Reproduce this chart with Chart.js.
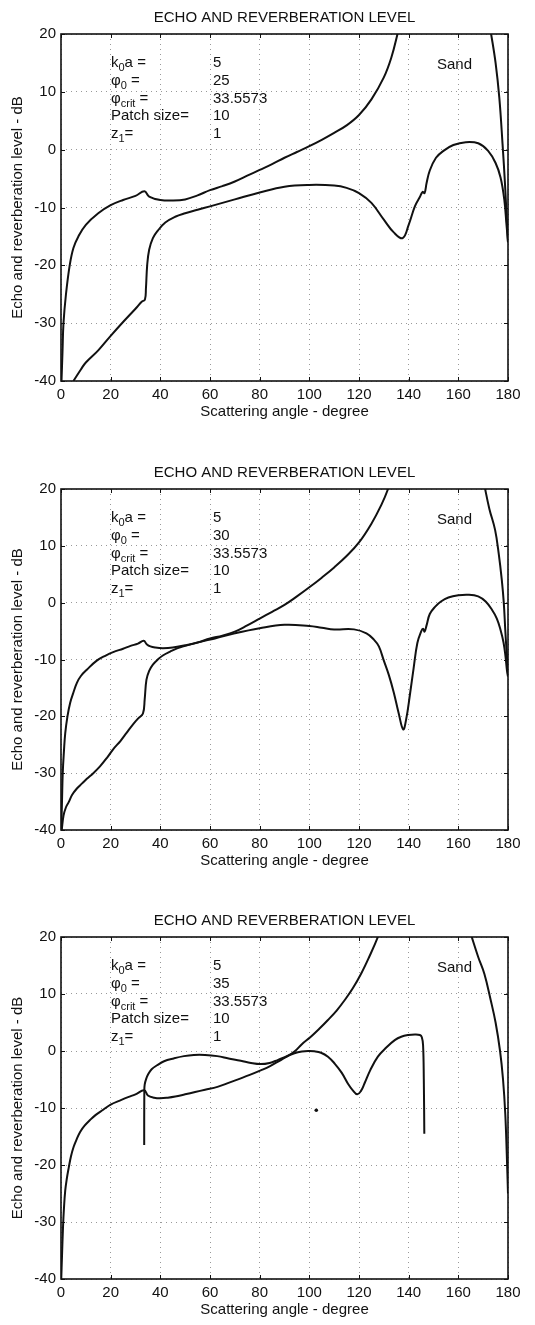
<!DOCTYPE html>
<html>
<head>
<meta charset="utf-8">
<title>Echo and reverberation level</title>
<script src="https://cdn.jsdelivr.net/npm/chart.js@4.4.1/dist/chart.umd.min.js"></script>
<style>
  body { margin: 0; background: #fff; }
  .panel { position: absolute; left: 0; width: 535px; }
</style>
</head>
<body>
<div class="panel" style="top:0px;height:425px"><canvas id="level25"></canvas></div>
<div class="panel" style="top:455px;height:419px"><canvas id="level30"></canvas></div>
<div class="panel" style="top:903px;height:420px"><canvas id="level35"></canvas></div>
<script>
// Scattering angle (degree) and level (dB); null = curve is off the top of the plot
const echo25Angle = [0.2, 0.6, 1, 2, 3.5, 5, 7, 10, 15, 20, 25, 30, 33.6, 35.5, 40, 45, 50, 55, 60, 65, 70, 75, 80, 85, 90, 95, 100, 105, 110, 115, 120, 125, 130, 133, 135.5, 137, 150, 172, 173.2, 175, 176.5, 177.8, 178.8, 179.5, 180];
const echo25Level = [-40, -35, -30, -25, -20, -17, -15, -13, -11, -9.6, -8.7, -8.0, -7.2, -8.1, -8.7, -8.8, -8.6, -7.9, -7.0, -6.3, -5.5, -4.5, -3.5, -2.5, -1.4, -0.4, 0.6, 1.7, 2.9, 4.2, 6.0, 8.7, 12.5, 15.9, 20, 23, null, 23, 20, 15, 9, 1, -6, -12, -16];
const reverb25Angle = [5, 8, 10, 15, 20, 25, 30, 32.5, 33.8, 34.2, 34.7, 35.5, 37, 39, 42, 46, 50, 55, 60, 70, 80, 90, 100, 110, 115, 120, 125, 130, 134, 137.6, 140, 142.5, 144.5, 145.6, 146.4, 147.2, 148.5, 151, 154, 158, 163, 168, 172, 175, 177, 178.5, 179.4, 180];
const reverb25Level = [-40, -38, -36.8, -34.7, -32.2, -29.8, -27.5, -26.3, -25.9, -24, -20, -17.3, -15.3, -14, -12.6, -11.6, -11, -10.4, -9.8, -8.6, -7.4, -6.4, -6.1, -6.2, -6.6, -7.5, -9.2, -12.1, -14.3, -15.3, -13, -9.8, -8.2, -7.3, -7.5, -5.8, -3.6, -1.4, -0.2, 0.8, 1.3, 1.1, -0.2, -2.3, -4.8, -8.6, -13, -16];

const echo30Angle = [0.1, 0.4, 0.7, 1.2, 1.7, 2.6, 3.7, 5, 6.4, 8, 10.4, 14.4, 18, 21, 25, 28, 31, 33.3, 34.5, 36, 38, 41, 45, 50, 55, 60, 65, 70, 75, 80, 85, 90, 95, 100, 105, 110, 115, 120, 125, 129, 131.7, 133, 150, 170, 170.8, 172.5, 174.8, 176.3, 177.5, 178.3, 178.9, 179.5, 180];
const echo30Level = [-40, -35, -30, -26, -23, -20, -17.6, -15.8, -14.1, -12.9, -11.8, -10.2, -9.3, -8.7, -8.1, -7.6, -7.2, -6.7, -7.3, -7.7, -7.9, -8.0, -7.9, -7.5, -7.0, -6.3, -5.8, -5.1, -4.0, -2.8, -1.6, -0.4, 1.1, 2.7, 4.4, 6.2, 8.2, 10.6, 13.9, 17.2, 20, 22, null, 22, 20, 16.5, 12.8, 8.5, 4, 0, -4.8, -9, -12];
const reverb30Angle = [0.3, 1, 2, 3.1, 4.5, 6.4, 8.5, 10.4, 13, 15.7, 18.5, 21, 24, 26.4, 29, 31, 33, 33.7, 34.4, 35.5, 37, 39, 41, 44, 47, 50, 56, 62, 70, 80, 90, 100, 105, 110, 118, 123, 126, 128, 130, 132, 134, 136, 137.8, 139, 140.5, 142, 143.5, 145, 145.8, 146.4, 147.2, 148.5, 150.7, 153, 156, 160, 164, 168, 171, 173.6, 175.5, 177, 178.2, 179, 179.6, 180];
const reverb30Level = [-40, -37.5, -36, -35.1, -33.8, -32.7, -31.8, -31, -30, -28.8, -27.3, -25.8, -24.3, -22.9, -21.4, -20.4, -19.5, -17, -13.6, -12, -10.9, -10, -9.3, -8.6, -8, -7.6, -6.9, -6.3, -5.4, -4.5, -3.9, -4.1, -4.4, -4.7, -4.7, -5.4, -6.5, -7.7, -10.2, -12.7, -15.8, -19.5, -22.3, -20.5, -16.2, -11.5, -7.1, -5.1, -4.6, -5.1, -4.0, -2.0, -0.7, 0.2, 0.9, 1.3, 1.4, 1.1, 0.2, -1.3, -2.8, -4.8, -7, -9.5, -12, -13];

const echo35Angle = [0.1, 0.4, 0.8, 1.2, 1.7, 2.3, 3.1, 4, 5.1, 6.3, 7.7, 9.5, 11.7, 14, 17, 20, 23.7, 27, 30, 33.5, 35, 37.5, 40, 43, 46, 50, 54, 58, 63, 68, 72.4, 76, 80.4, 84, 87.2, 90.5, 94, 97, 100.6, 104, 107.4, 111, 114.2, 117.5, 120.9, 124, 127.6, 129, 150, 164, 165.4, 168, 170.5, 173, 175, 176.8, 178, 178.9, 179.5, 180];
const echo35Level = [-40, -36, -31, -27.5, -24.5, -22.5, -20.5, -18.5, -16.8, -15.5, -14.2, -13.1, -12.1, -11.2, -10.3, -9.4, -8.7, -8.1, -7.6, -6.9, -7.8, -8.2, -8.3, -8.2, -8, -7.6, -7.2, -6.8, -6.3, -5.5, -4.8, -4.2, -3.4, -2.7, -1.9, -1.1, -0.1, 1.2, 2.5, 3.9, 5.4, 7.1, 8.9, 11.0, 13.6, 16.4, 20, 22, null, 22, 20, 16.5, 13.5, 9, 5, 0, -5, -11, -18, -25];
const reverb35Angle = [33.5, 33.55, 33.7, 34.3, 35.2, 36.5, 38.7, 41.5, 45.4, 49.5, 53.5, 58, 62.9, 67.5, 72.4, 76.5, 80.4, 84, 87.2, 90.5, 94, 97, 99.5, 102, 104.7, 107.5, 110.2, 113, 115.5, 117.5, 119.3, 120.8, 122.2, 124.5, 127.6, 131, 134.4, 137, 139.8, 142.5, 144.5, 145.3, 145.8, 146.1, 146.3];
const reverb35Level = [-16.5, -7.0, -5.9, -4.9, -4.0, -3.2, -2.5, -1.8, -1.3, -0.9, -0.7, -0.7, -0.9, -1.3, -1.7, -2.1, -2.3, -2.1, -1.6, -1.0, -0.4, -0.1, 0, -0.05, -0.3, -1.0, -2.2, -3.8, -5.7, -6.9, -7.6, -7.0, -5.7, -3.4, -1.0, 0.6, 1.9, 2.5, 2.8, 2.9, 2.8, 2.4, 1.0, -5, -14.5];
const speck35Angle = [102.8];
const speck35Level = [-10.4];

// parameter block; text between bars is set as a subscript
const paramNames = ['k|0|a =', 'φ|0| =', 'φ|crit| =', 'Patch size=', 'z|1|='];
const kaValue = '5';
const grazingAngles = ['25', '30', '35'];
const critAngle = '33.5573';
const patchSize = '10';
const z1Value = '1';
const sedimentName = 'Sand';

const family = '"Liberation Sans", Arial, Helvetica, sans-serif';
const ink = '#111';

function toPoints(angles, levels) {
    return angles.map((a, i) => ({ x: a, y: levels[i] }));
}

function drawSubscripted(ctx, text, x, y) {
    text.split('|').forEach((part, i) => {
        const sub = i % 2 === 1;
        ctx.font = (sub ? 11 : 15) + 'px ' + family;
        ctx.fillText(part, x, y + (sub ? 4 : 0));
        x += ctx.measureText(part).width;
    });
}

// box round the plot with inward ticks on all four sides
const framePlugin = {
    id: 'frame',
    afterDraw(chart) {
        const { ctx, chartArea: a, scales: { x, y } } = chart;
        ctx.save();
        ctx.strokeStyle = ink;
        ctx.lineWidth = 1;
        ctx.beginPath();
        x.ticks.forEach(t => {
            const px = Math.round(x.getPixelForValue(t.value)) + 0.5;
            ctx.moveTo(px, a.bottom); ctx.lineTo(px, a.bottom - 4);
            ctx.moveTo(px, a.top); ctx.lineTo(px, a.top + 4);
        });
        y.ticks.forEach(t => {
            const py = Math.round(y.getPixelForValue(t.value)) + 0.5;
            ctx.moveTo(a.left, py); ctx.lineTo(a.left + 4, py);
            ctx.moveTo(a.right, py); ctx.lineTo(a.right - 4, py);
        });
        ctx.stroke();
        ctx.lineWidth = 1.6;
        ctx.strokeRect(a.left, a.top, a.width, a.height);
        ctx.restore();
    }
};

// parameter list and sediment label inside the plot
const notesPlugin = {
    id: 'notes',
    afterDatasetsDraw(chart, args, opts) {
        const { ctx, chartArea: a } = chart;
        ctx.save();
        ctx.fillStyle = ink;
        ctx.textBaseline = 'alphabetic';
        paramNames.forEach((name, i) => {
            const y = a.top + 33 + i * 17.8;
            drawSubscripted(ctx, name, a.left + 50, y);
            ctx.font = '15px ' + family;
            ctx.fillText(opts.values[i], a.left + 152, y);
        });
        ctx.font = '15px ' + family;
        ctx.fillText(sedimentName, a.left + 376, a.top + 35);
        ctx.restore();
    }
};

function makeChart(id, phi0, curves, specks) {
    const datasets = curves.map(([angles, levels]) => ({
        data: toPoints(angles, levels),
        borderColor: ink,
        borderWidth: 2,
        pointRadius: 0,
        tension: 0.4,
        spanGaps: false
    }));
    if (specks) {
        datasets.push({
            data: toPoints(specks[0], specks[1]),
            showLine: false,
            pointRadius: 1.8,
            pointBackgroundColor: ink,
            pointBorderWidth: 0
        });
    }

    const tickFont = { family: family, size: 15 };
    return new Chart(document.getElementById(id), {
        type: 'line',
        data: { datasets: datasets },
        options: {
            responsive: true,
            maintainAspectRatio: false,
            animation: false,
            layout: { padding: { left: 0, right: 27, top: 0, bottom: 0 } },
            scales: {
                x: {
                    type: 'linear',
                    min: 0,
                    max: 180,
                    ticks: { stepSize: 20, padding: 5, color: ink, font: tickFont, maxRotation: 0 },
                    grid: { color: 'rgba(0,0,0,0.4)', lineWidth: 1, drawTicks: false },
                    border: { display: false, dash: [1, 4] },
                    title: {
                        display: true,
                        text: 'Scattering angle - degree',
                        color: ink,
                        font: tickFont,
                        padding: { top: 0, bottom: 4 }
                    },
                    afterFit: s => { s.height = 44; }
                },
                y: {
                    min: -40,
                    max: 20,
                    ticks: { stepSize: 10, padding: 5, color: ink, font: tickFont },
                    grid: { color: 'rgba(0,0,0,0.4)', lineWidth: 1, drawTicks: false },
                    border: { display: false, dash: [1, 4] },
                    title: {
                        display: true,
                        text: 'Echo and reverberation level - dB',
                        color: ink,
                        font: tickFont,
                        padding: { top: 9, bottom: 4 }
                    },
                    afterFit: s => { s.width = 61; }
                }
            },
            plugins: {
                legend: { display: false },
                tooltip: { enabled: false },
                title: {
                    display: true,
                    text: 'ECHO AND REVERBERATION LEVEL',
                    fullSize: false,
                    color: ink,
                    font: { family: family, size: 15, weight: 'normal' },
                    padding: { top: 9, bottom: 7 }
                },
                notes: { values: [kaValue, phi0, critAngle, patchSize, z1Value] }
            }
        },
        plugins: [framePlugin, notesPlugin]
    });
}

makeChart('level25', grazingAngles[0], [[echo25Angle, echo25Level], [reverb25Angle, reverb25Level]]);
makeChart('level30', grazingAngles[1], [[echo30Angle, echo30Level], [reverb30Angle, reverb30Level]]);
makeChart('level35', grazingAngles[2], [[echo35Angle, echo35Level], [reverb35Angle, reverb35Level]], [speck35Angle, speck35Level]);
</script>
</body>
</html>
